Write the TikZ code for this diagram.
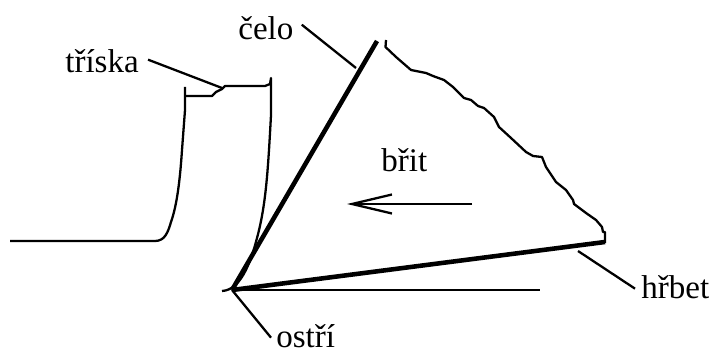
\documentclass[tikz,border=0pt]{standalone}
\usepackage{fontspec}
\setmainfont{Liberation Serif}
\usetikzlibrary{arrows.meta, positioning, calc}

\tikzset{
    label text/.style={font=\fontsize{18.8pt}{20pt}\selectfont, anchor=base west, inner sep=0pt},
    thin line/.style={line width=1.3pt, black},
    thick line/.style={line width=2.6pt, black},
}

\begin{document}
\begin{tikzpicture}[x=0.02cm, y=-0.02cm]
    \useasboundingbox (0,0) rectangle (712,354);

    % Chip and workpiece
    \draw[thin line, line join=round] (10,241) -- (155,241) .. controls (165,241) and (168,232) .. (171,222)
        .. controls (177,205) and (180,180) .. (182,150) -- (185,110) -- (185,87);
    \draw[thin line, line join=round] (185,96) -- (212,96) -- (216,92) -- (222,89) -- (225,86) -- (265,86)
        -- (270,84) -- (271,78) -- (271,115) .. controls (268,170) and (266,205) .. (257,238)
        .. controls (250,265) and (240,290) .. (222,291);

    % Tool
    \coordinate (edge) at (232,290);
    \coordinate (faceEnd) at (377,41);
    \coordinate (flankEnd) at (605,242);
    \coordinate (baseEnd) at (540,290);
    \draw[thick line] (edge) -- (faceEnd);
    \draw[thick line] (edge) -- (flankEnd);
    \draw[thin line] (edge) -- (baseEnd);

    % Rough back of the tool
    \draw[thin line, line join=round] (386,40) -- (385.5,47) -- (396,57) -- (411,70) -- (426,73) -- (433,76) -- (444,80)
        -- (453,87) -- (464,98) -- (471,100) -- (478,106) -- (484,108) -- (494,117) -- (499,127)
        -- (511,138) -- (526,152) -- (533,156) -- (542,157) -- (546,167) -- (556,182) -- (566,190)
        -- (573,200) -- (574,204) -- (586,213) -- (596,220) -- (602,227) -- (603,232) -- (605,232) -- (605,243);

    % Labels
    \node[label text] (celo) at (238,40) {čelo};
    \node[label text] (triska) at (65,73) {tříska};
    \node[label text] (brit) at (381,172) {břit};
    \node[label text] (hrbet) at (641,298) {hřbet};
    \node[label text] (ostri) at (276,347) {ostří};

    % Leaders
    \coordinate (celoTip) at (356,68);
    \coordinate (triskaTip) at (222,88);
    \coordinate (hrbetTip) at (578,251);
    \draw[thin line] (celo.east) ++(8,-4) -- (celoTip);
    \draw[thin line] (triska.east) ++(9,-2) -- (triskaTip);
    \draw[thin line] (hrbet.west) ++(-6,2) -- (hrbetTip);
    \draw[thin line] (ostri.north west) ++(-5,14) -- (edge);

    % Cutting direction
    \coordinate (dirStart) at (472,204);
    \coordinate (dirEnd) at (347,204);
    \draw[thin line, -{Straight Barb[length=8mm, width=3.8mm]}] (dirStart) -- (dirEnd);
\end{tikzpicture}
\end{document}
